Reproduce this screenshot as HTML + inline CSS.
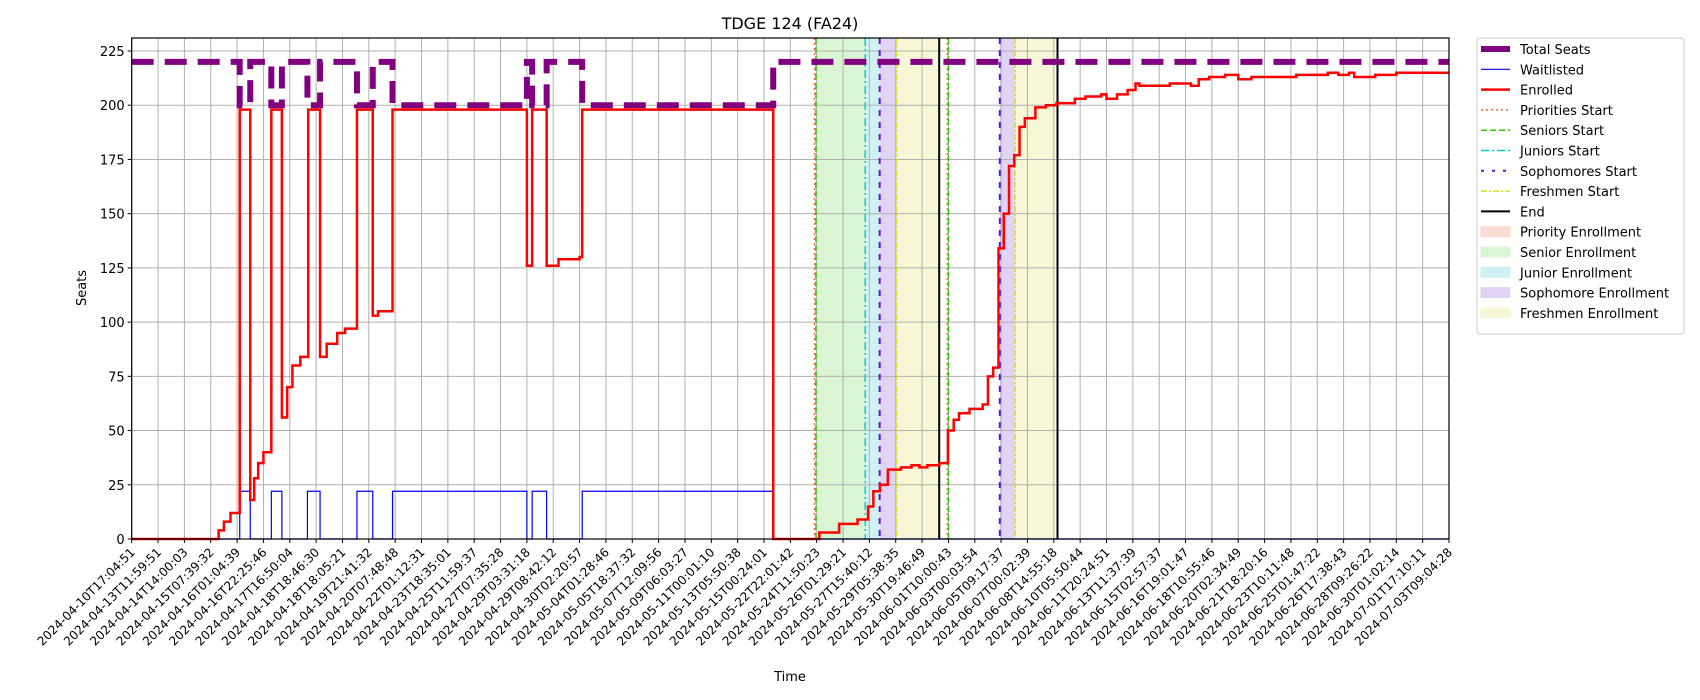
<!DOCTYPE html>
<html><head><meta charset="utf-8"><style>
body{margin:0;background:#fff}
svg{display:block;font-family:"DejaVu Sans","Liberation Sans",sans-serif}
</style></head><body>
<svg id="chart" width="1700" height="700" xmlns="http://www.w3.org/2000/svg">
<rect width="1700" height="700" fill="#fff"/>
<text x="790" y="29" font-size="16" text-anchor="middle">TDGE 124 (FA24)</text>
<g id="spans"></g><g id="grid"></g><g id="vlines"></g><g id="series"></g><g id="axes"></g>
<text x="86" y="288" font-size="13" text-anchor="middle" transform="rotate(-90 86 288)">Seats</text>
<text x="790" y="681" font-size="13" text-anchor="middle">Time</text>
<g id="legend"></g>
</svg>
<script>
const tickLabels=["2024-04-10T17:04:51","2024-04-13T11:59:51","2024-04-14T14:00:03","2024-04-15T07:39:32","2024-04-16T01:04:39","2024-04-16T22:25:46","2024-04-17T16:50:04","2024-04-18T18:46:30","2024-04-18T18:05:21","2024-04-19T21:41:32","2024-04-20T07:48:48","2024-04-22T01:12:31","2024-04-23T18:35:01","2024-04-25T11:59:37","2024-04-27T07:35:28","2024-04-29T03:31:18","2024-04-29T08:42:12","2024-04-30T02:20:57","2024-05-04T01:28:46","2024-05-05T18:37:32","2024-05-07T12:09:56","2024-05-09T06:03:27","2024-05-11T00:01:10","2024-05-13T05:50:38","2024-05-15T00:24:01","2024-05-22T22:01:42","2024-05-24T11:50:23","2024-05-26T01:29:21","2024-05-27T15:40:12","2024-05-29T05:38:35","2024-05-30T19:46:49","2024-06-01T10:00:43","2024-06-03T00:03:54","2024-06-05T09:17:37","2024-06-07T00:02:39","2024-06-08T14:55:18","2024-06-10T05:50:44","2024-06-11T20:24:51","2024-06-13T11:37:39","2024-06-15T02:57:37","2024-06-16T19:01:47","2024-06-18T10:55:46","2024-06-20T02:34:49","2024-06-21T18:20:16","2024-06-23T10:11:48","2024-06-25T01:47:22","2024-06-26T17:38:43","2024-06-28T09:26:22","2024-06-30T01:02:14","2024-07-01T17:10:11","2024-07-03T09:04:28"];
const yTicks=[0,25,50,75,100,125,150,175,200,225];
const enrolledT=[0,3.1,3.3,3.5,3.75,4.1,4.5,4.65,4.8,5.0,5.3,5.7,5.9,6.1,6.4,6.7,7.15,7.4,7.8,8.1,8.55,9.15,9.35,9.9,15.0,15.2,15.75,16.2,17.0,17.1,24.35,25.97,26.1,26.85,27.55,27.95,28.15,28.4,28.7,29.2,29.6,29.9,30.2,30.66,30.98,31.2,31.4,31.8,32.3,32.5,32.7,32.9,33.1,33.3,33.5,33.7,33.9,34.3,34.7,35.1,35.8,36.2,36.8,37.0,37.4,37.8,38.1,38.25,39.4,40.2,40.5,40.9,41.5,42.0,42.5,43.0,44.2,45.4,45.8,46.2,46.4,47.2,48.0,50];
const enrolledV=[0,0,4,8,12,198,18,28,35,40,198,56,70,80,84,198,84,90,95,97,198,103,105,198,126,198,126,129,130,198,0,0,3,7,9,15,22,25,32,33,34,33,34,35,50,55,58,60,62,75,79,134,150,172,177,190,194,199,200,201,203,204,205,203,205,207,210,209,210,209,212,213,214,212,213,213,214,215,214,215,213,214,215,215];
const waitT=[0,4.1,4.5,5.3,5.7,6.67,7.15,8.55,9.15,9.9,15.0,15.2,15.75,17.1,24.35,50];
const waitV=[0,22,0,22,0,22,0,22,0,22,0,22,0,22,0,0];
const totalT=[0,4.1,4.5,5.3,5.7,6.67,7.15,8.55,9.15,9.9,15.0,15.2,15.75,17.1,24.35,50];
const totalV=[220,200,220,200,220,200,220,200,220,200,220,200,220,200,220,220];
const spanStart=[25.97,27.84,28.39,29.03,30.99,32.95,33.53];
const spanEnd=[27.84,28.39,29.03,30.65,31.02,33.53,35.07];
const spanKind=["senior","junior","sophomore","freshmen","senior","sophomore","freshmen"];
const markerT=[25.92,25.97,27.84,28.39,29.03,30.65,30.96,31.0,32.95,33.53,35.14];
const markerKind=["priorities","seniors","juniors","sophomores","freshmen","end","priorities","seniors","sophomores","freshmen","end"];

const L=131.7,R=1449,T=38,B=539,YMAX=231;
const X=u=>L+u*(R-L)/50, Y=v=>B-v*(B-T)/YMAX;
const NS="http://www.w3.org/2000/svg";
function mk(tag,attrs,parent){const e=document.createElementNS(NS,tag);for(const k in attrs)e.setAttribute(k,attrs[k]);parent.appendChild(e);return e;}
const g=id=>document.getElementById(id);
const spanColor={senior:"#d9f5d3",junior:"#cff1f3",sophomore:"#e0d3f4",freshmen:"#f7f7d8"};
spanStart.forEach((s,i)=>{const r=mk("rect",{x:X(s),y:T,width:X(spanEnd[i])-X(s),height:B-T,fill:spanColor[spanKind[i]]},g("spans"));

});
tickLabels.forEach((lab,i)=>{const x=X(i);
const gl=mk("line",{x1:x,x2:x,y1:T,y2:B,stroke:"#b0b0b0","stroke-width":1},g("grid"));


mk("line",{x1:x,x2:x,y1:B,y2:B+4,stroke:"#000"},g("axes"));
const t=mk("text",{x:x+4,y:B+14,"font-size":12.1,"text-anchor":"end",transform:`rotate(-45 ${x+4} ${B+14})`},g("axes"));t.textContent=lab;

});
yTicks.forEach(v=>{const y=Y(v);
const gl=mk("line",{x1:L,x2:R,y1:y,y2:y,stroke:"#b0b0b0","stroke-width":1},g("grid"));


mk("line",{x1:L-4,x2:L,y1:y,y2:y,stroke:"#000"},g("axes"));
const t=mk("text",{x:L-7,y:y+5,"font-size":13,"text-anchor":"end"},g("axes"));t.textContent=v;

});
const mstyle={priorities:["#f06a2a","2,3",1.5],seniors:["#33cc00","6,3",1.5],juniors:["#11cccc","8,3,2,3",1.5],sophomores:["#5a14d8","6,6",2],freshmen:["#dddd22","6,2,2,2",1.5],end:["#000","",2]};
markerT.forEach((t,i)=>{const s=mstyle[markerKind[i]];
const l=mk("line",{x1:X(t),x2:X(t),y1:T,y2:B,stroke:s[0],"stroke-width":s[2],"stroke-dasharray":s[1]},g("vlines"));

});
function step(ts,vs){let d=`M${X(ts[0])},${Y(vs[0])}`;for(let i=1;i<ts.length;i++){d+=`H${X(ts[i])}V${Y(vs[i])}`;}return d;}
const tp=mk("path",{d:step(totalT,totalV),fill:"none",stroke:"#800080","stroke-width":6,"stroke-dasharray":"22,11"},g("series"));


const wp=mk("path",{d:step(waitT,waitV),fill:"none",stroke:"#0000ff","stroke-width":1.2},g("series"));


const ep=mk("path",{d:step(enrolledT,enrolledV),fill:"none",stroke:"#ff0000","stroke-width":2.5},g("series"));


mk("rect",{x:L,y:T,width:R-L,height:B-T,fill:"none",stroke:"#000","stroke-width":1.2},g("axes"));
const lg=g("legend");
mk("rect",{x:1477,y:38,width:207,height:296,fill:"#fff",stroke:"#ccc",rx:3},lg);
const items=[["Total Seats","line","#800080","",6],["Waitlisted","line","#0000ff","",1.2],["Enrolled","line","#ff0000","",2.5],["Priorities Start","line","#f06a2a","2,3",1.5],["Seniors Start","line","#33cc00","6,3",1.5],["Juniors Start","line","#11cccc","8,3,2,3",1.5],["Sophomores Start","line","#5a14d8","3,8",2],["Freshmen Start","line","#dddd22","6,2,2,2",1.5],["End","line","#000","",2],["Priority Enrollment","patch","#f8dccf"],["Senior Enrollment","patch","#d9f5d3"],["Junior Enrollment","patch","#cff1f3"],["Sophomore Enrollment","patch","#e0d3f4"],["Freshmen Enrollment","patch","#f7f7d8"]];
items.forEach((it,i)=>{const y=49+i*20.3;
if(it[1]==="line"){mk("line",{x1:1481,x2:1510,y1:y,y2:y,stroke:it[2],"stroke-width":it[4],"stroke-dasharray":it[3]},lg);}
else{mk("rect",{x:1481,y:y-5,width:29,height:10,fill:it[2],stroke:it[2]},lg);}
const t=mk("text",{x:1520,y:y+5,"font-size":13},lg);t.textContent=it[0];

});
</script>
</body></html>
